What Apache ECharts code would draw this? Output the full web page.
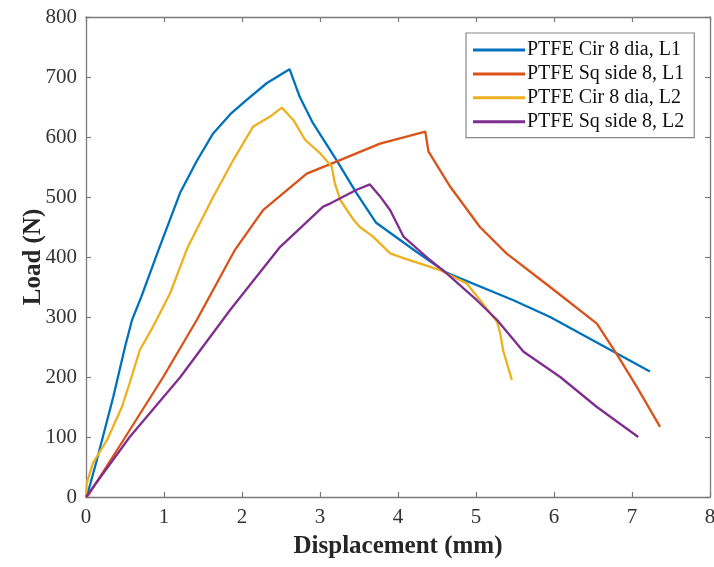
<!DOCTYPE html>
<html>
<head>
<meta charset="utf-8">
<script src="https://cdn.jsdelivr.net/npm/echarts@6/dist/echarts.min.js"></script>
<style>html,body{margin:0;padding:0;background:#fff}#c{width:714px;height:567px}</style>
</head>
<body>
<div id="c"></div>
<script>
var seriesNames = ['PTFE Cir 8 dia, L1', 'PTFE Sq side 8, L1', 'PTFE Cir 8 dia, L2', 'PTFE Sq side 8, L2'];
var xTicks = [0, 1, 2, 3, 4, 5, 6, 7, 8];
var yTicks = [0, 100, 200, 300, 400, 500, 600, 700, 800];

var cirL1 = [[0,0],[0.03,10],[0.14,62],[0.35,167],[0.5,250],[0.59,295],[0.71,334],[0.93,412],[1.21,508],[1.42,560],[1.63,606],[1.85,638],[2.06,662],[2.32,690],[2.61,713],[2.74,667],[2.91,623],[3.21,562],[3.47,506],[3.72,457],[4.2,412],[4.62,374],[5.48,328],[5.95,300],[7.23,209]];
var sqL1 = [[0,0],[0.03,3],[0.48,95],[0.99,200],[1.42,295],[1.91,412],[2.27,478],[2.83,539],[3.21,559],[3.77,589],[4.35,609],[4.39,576],[4.67,517],[5.05,450],[5.39,406],[5.95,350],[6.55,289],[6.80,239],[7.06,184],[7.36,117]];
var cirL2 = [[0,0],[0.01,23],[0.09,57],[0.27,95],[0.46,150],[0.56,190],[0.69,245],[0.86,284],[1.08,340],[1.29,412],[1.33,423],[1.63,500],[1.89,562],[2.14,617],[2.36,634],[2.51,649],[2.66,628],[2.81,595],[3.0,573],[3.15,551],[3.19,523],[3.26,495],[3.43,462],[3.51,450],[3.68,434],[3.9,406],[4.07,398],[4.54,378],[4.88,356],[5.01,335],[5.27,292],[5.31,273],[5.35,243],[5.46,195]];
var sqL2 = [[0,0],[0.56,100],[1.21,200],[1.85,312],[2.49,417],[3.04,484],[3.13,489],[3.47,512],[3.64,521],[3.77,501],[3.9,478],[4.07,434],[4.41,395],[4.62,373],[5.01,328],[5.27,295],[5.61,242],[6.08,200],[6.55,150],[7.08,100]];

var colors = ['#0072BD', '#D95319', '#EDB120', '#7E2F8E'];
var dataSets = [cirL1, sqL1, cirL2, sqL2];

var font = 'Liberation Serif';
var axisLineColor = '#7a7a7a';

function axisBase(type, pos, show) {
  return {
    type: 'value', position: pos, min: 0,
    max: type === 'x' ? 8 : 800, interval: type === 'x' ? 1 : 100,
    axisLine: { show: true, onZero: false, lineStyle: { color: axisLineColor, width: 1.3 } },
    axisTick: { show: true, inside: true, length: 5, lineStyle: { color: axisLineColor, width: 1.2 } },
    splitLine: { show: false },
    axisLabel: { show: show, color: '#333', fontFamily: font, fontSize: 21, margin: 9 }
  };
}

var xMain = axisBase('x', 'bottom', true);
xMain.name = 'Displacement (mm)';
xMain.nameLocation = 'middle';
xMain.nameGap = 37;
xMain.nameMoveOverlap = false;
xMain.nameTextStyle = { fontFamily: font, fontWeight: 'bold', fontSize: 25, color: '#262626' };
xMain.axisLabel.margin = 10;
var xTop = axisBase('x', 'top', false);

var yMain = axisBase('y', 'left', true);
yMain.name = 'Load (N)';
yMain.nameLocation = 'middle';
yMain.nameGap = 40;
yMain.nameMoveOverlap = false;
yMain.nameTextStyle = { fontFamily: font, fontWeight: 'bold', fontSize: 25, color: '#262626' };
var yRight = axisBase('y', 'right', false);

var chart = echarts.init(document.getElementById('c'), null, { renderer: 'canvas' });
chart.setOption({
  animation: false,
  backgroundColor: '#fff',
  grid: { left: 86, right: 4, top: 17, bottom: 70, containLabel: false, outerBoundsMode: 'none' },
  xAxis: [xMain, xTop],
  yAxis: [yMain, yRight],
  legend: {
    data: seriesNames,
    orient: 'vertical',
    left: 466, top: 33,
    backgroundColor: '#fff',
    borderColor: '#888', borderWidth: 1.2, borderRadius: 0,
    padding: [7, 10, 6, 7],
    icon: 'rect',
    itemWidth: 52, itemHeight: 3, itemGap: 3.9,
    textStyle: { fontFamily: font, fontSize: 20, color: '#111', padding: [0, 0, 0, -3] }
  },
  series: dataSets.map(function (d, i) {
    return {
      name: seriesNames[i], type: 'line', data: d,
      xAxisIndex: 0, yAxisIndex: 0,
      symbol: 'none', smooth: false,
      lineStyle: { color: colors[i], width: 2.3 },
      itemStyle: { color: colors[i] }
    };
  })
});
</script>
</body>
</html>
